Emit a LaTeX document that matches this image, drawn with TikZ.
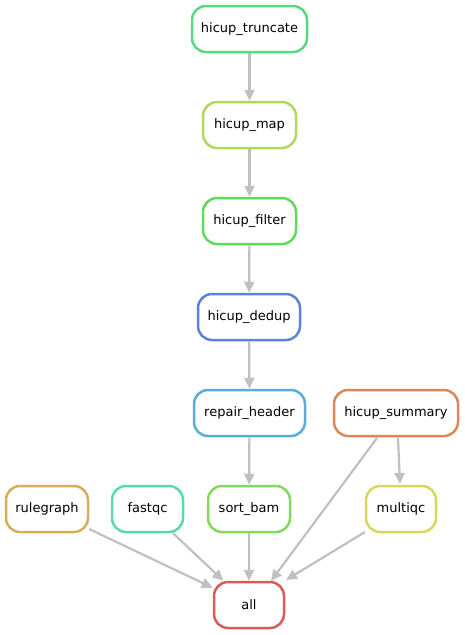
\documentclass[tikz,border=0pt]{standalone}
\usepackage{fontspec}
\setmainfont{DejaVu Sans}
\usepackage{tikz}
\usetikzlibrary{arrows.meta}

\definecolor{ctrunc}{HTML}{56D97F}
\definecolor{cmap}{HTML}{AFD95A}
\definecolor{cfilter}{HTML}{5ED95A}
\definecolor{cdedup}{HTML}{5A82D9}
\definecolor{crepair}{HTML}{5AACD9}
\definecolor{csummary}{HTML}{D9885A}
\definecolor{crule}{HTML}{D9AC5A}
\definecolor{cfastqc}{HTML}{5AD9AC}
\definecolor{csort}{HTML}{82D95A}
\definecolor{cmultiqc}{HTML}{D9D75A}
\definecolor{call}{HTML}{D95A5A}
\definecolor{edgegray}{HTML}{C0C0C0}

\begin{document}
\begin{tikzpicture}[x=1pt, y=-1pt, >={Triangle[length=11pt,width=10pt]},
    rule/.style={draw=#1, line width=2.5pt, rounded corners=14pt, fill=white,
        minimum height=46pt, inner xsep=4pt, font=\fontsize{13}{15}\selectfont},
    dep/.style={->, edgegray, line width=2.2pt}]
    \useasboundingbox (0,0) rectangle (464,635);

    % Main chain
    \node[rule=ctrunc, minimum width=115pt]  (trunc)   at (249.5,29)  {hicup\_truncate};
    \node[rule=cmap, minimum width=93pt]     (map)     at (249.5,125) {hicup\_map};
    \node[rule=cfilter, minimum width=93pt]  (filter)  at (249.5,221) {hicup\_filter};
    \node[rule=cdedup, minimum width=102pt]  (dedup)   at (249,317)   {hicup\_dedup};
    \node[rule=crepair, minimum width=111pt] (repair)  at (249.5,413) {repair\_header};
    \node[rule=csort, minimum width=82pt]    (sortbam) at (249,509)   {sort\_bam};

    % Side rules
    \node[rule=csummary, minimum width=124pt] (summary) at (396,413)   {hicup\_summary};
    \node[rule=crule, minimum width=82pt]     (rgraph)  at (47,509)    {rulegraph};
    \node[rule=cfastqc, minimum width=71pt]   (fastqc)  at (147.5,509) {fastqc};
    \node[rule=cmultiqc, minimum width=70pt]  (multiqc) at (401,509)   {multiqc};

    % Target
    \node[rule=call, minimum width=70pt]      (all)     at (249,605)   {all};

    % Off-centre edge ends
    \coordinate (sumA) at (377,438);
    \coordinate (sumB) at (398,438);
    \coordinate (mqIn) at (400,484);
    \coordinate (mqOut) at (365,532);
    \coordinate (allA) at (271,581);
    \coordinate (allB) at (286,580);

    % Dependencies
    \draw[dep] (trunc) -- (map);
    \draw[dep] (map) -- (filter);
    \draw[dep] (filter) -- (dedup);
    \draw[dep] (dedup) -- (repair);
    \draw[dep] (repair) -- (sortbam);
    \draw[dep] (sortbam) -- (all);
    \draw[dep] (sumB) -- (mqIn);
    \draw[dep] (sumA) -- (allA);
    \draw[dep] (mqOut) -- (allB);
    \draw[dep] (rgraph) -- (all);
    \draw[dep] (fastqc) -- (all);
\end{tikzpicture}
\end{document}
